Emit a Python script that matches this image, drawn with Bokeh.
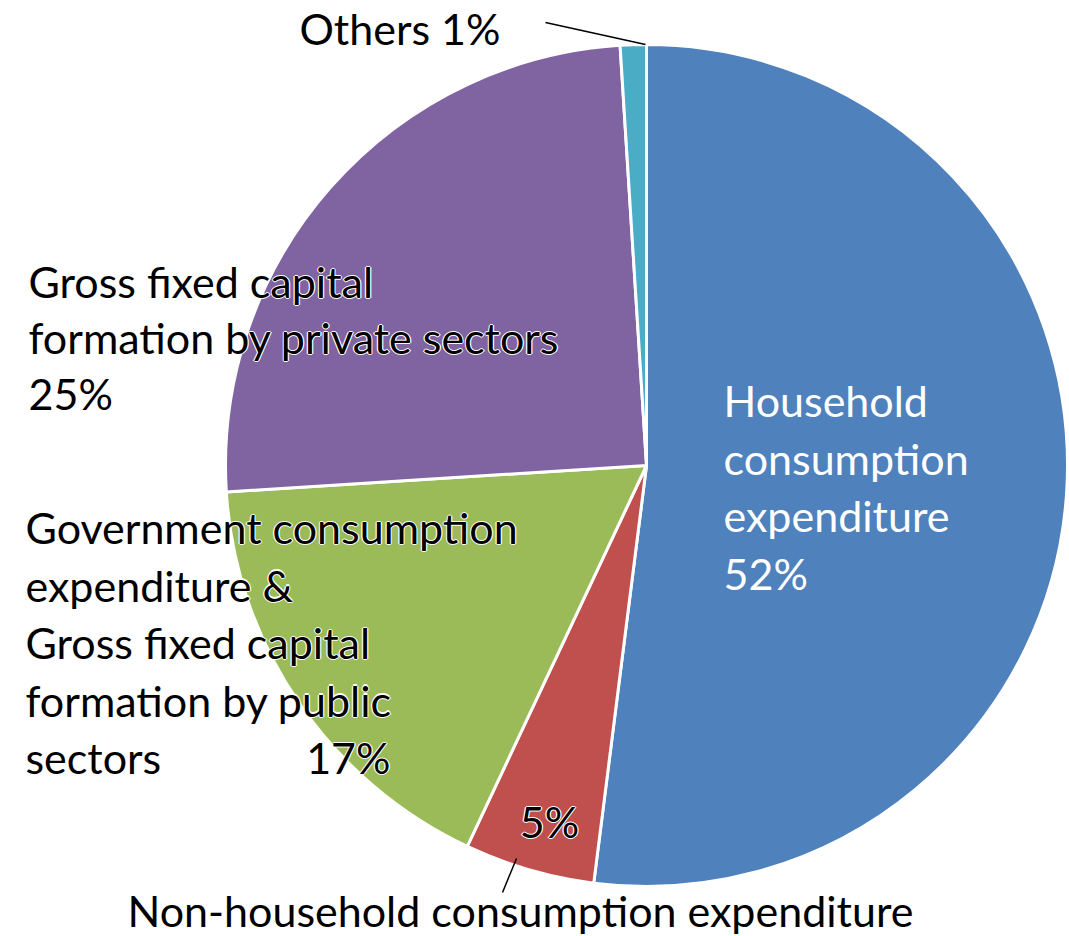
import math
from bokeh.plotting import figure
from bokeh.models import Range1d, ColumnDataSource
from bokeh.core.properties import value
from bokeh.embed import file_html
from bokeh.resources import INLINE

# ---- data ----
categories = ["Household consumption expenditure",
              "Non-household consumption expenditure",
              "Government consumption expenditure & Gross fixed capital formation by public sectors",
              "Gross fixed capital formation by private sectors",
              "Others"]
shares = [52, 5, 17, 25, 1]
colors = ["#4F81BD", "#C0504D", "#9BBB59", "#8064A2", "#4BACC6"]
pct_labels = ["52%", "5%", "17%", "25%", "1%"]

W, H = 1069, 936
FONT = "Lato"
FS = "43px"
SHIFT = 15

def Y(sy):
    return H - sy

p = figure(width=W, height=H, output_backend="svg", toolbar_location=None,
           x_range=Range1d(0, W), y_range=Range1d(0, H),
           min_border=0)
p.axis.visible = False
p.grid.visible = False
p.outline_line_color = None
p.background_fill_color = "white"

cx, cy, r = 646, Y(465), 421
total = sum(shares)
starts, ends = [], []
acc = 0.0
for s in shares:
    a0 = math.pi / 2 - 2 * math.pi * acc / total
    acc += s
    a1 = math.pi / 2 - 2 * math.pi * acc / total
    starts.append(a0)
    ends.append(a1)

src = ColumnDataSource(dict(x=[cx] * len(shares), y=[cy] * len(shares),
                            start=starts, end=ends, color=colors, cat=categories))
p.wedge(x="x", y="y", radius=r, start_angle="start", end_angle="end",
        direction="clock", fill_color="color", line_color="white", line_width=3,
        source=src)

# leader lines
p.line(x=[545, 645], y=[Y(22), Y(44)], line_color="black", line_width=1.5)
p.line(x=[516, 502], y=[Y(858), Y(892)], line_color="black", line_width=1.5)

# labels: (lines, x, first baseline, line step, color, align, halo)
labels = [
    (["Household", "consumption", "expenditure", pct_labels[0]], 723, 415, 57.5, "white", "left", False),
    (["Others " + pct_labels[4]], 299, 43, 57, "black", "left", True),
    (["Gross fixed capital", "formation by private sectors", pct_labels[3]], 28, 296, 56, "black", "left", True),
    (["Government consumption", "expenditure &", "Gross fixed capital", "formation by public", "sectors"], 25, 542, 57.5, "black", "left", True),
    ([pct_labels[2]], 390, 772, 57, "black", "right", True),
    ([pct_labels[1]], 549, 836, 57, "black", "center", True),
    (["Non-household consumption expenditure"], 520, 925, 57, "black", "center", True),
]

for lines, lx, by, step, col, align, halo in labels:
    xs, ys, ts = [], [], []
    for i, t in enumerate(lines):
        xs.append(lx)
        ys.append(Y(by - SHIFT + i * step))
        ts.append(t)
    if halo:
        for dx, dy in [(-1.2, 0), (1.2, 0), (0, -1.2), (0, 1.2)]:
            p.text(x=[v + dx for v in xs], y=[v + dy for v in ys], text=ts,
                   text_font=value(FONT), text_font_size=FS, text_color="white",
                   text_align=align, text_baseline="alphabetic")
    p.text(x=xs, y=ys, text=ts, text_font=value(FONT), text_font_size=FS,
           text_color=col, text_align=align, text_baseline="alphabetic")

open("out.html", "w").write(file_html(p, INLINE))
